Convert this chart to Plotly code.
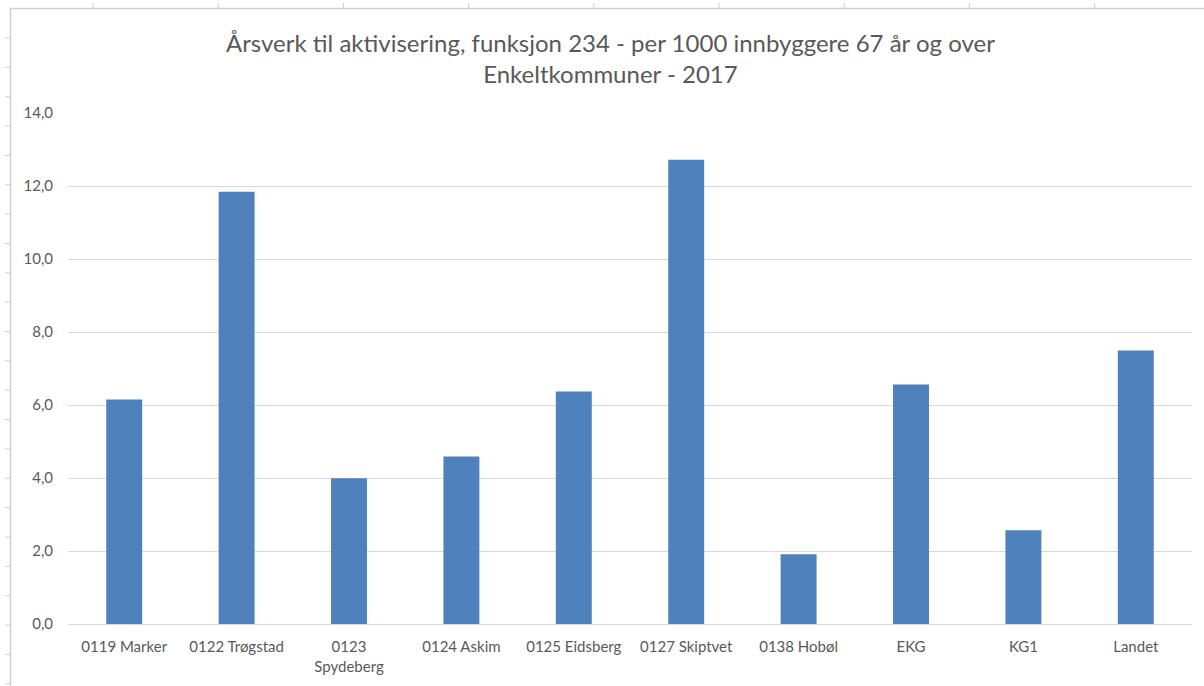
import plotly.graph_objects as go

# data
kommuner = ["0119 Marker", "0122 Trøgstad", "0123<br>Spydeberg", "0124 Askim",
            "0125 Eidsberg", "0127 Skiptvet", "0138 Hobøl", "EKG", "KG1", "Landet"]
aarsverk = [6.15, 11.84, 3.99, 4.59, 6.37, 12.72, 1.91, 6.56, 2.57, 7.49]
y_ticks = [0, 2, 4, 6, 8, 10, 12, 14]

W, H = 1204, 686
L, R, T, B = 68, 12, 113, 62
grey = "#595959"


# helpers to place frame decorations in pixel units
def px_x(x):
    return (x - L) / (W - L - R)


def px_y(y):
    return (H - B - y) / (H - T - B)


fig = go.Figure()
fig.add_trace(go.Bar(
    x=kommuner,
    y=aarsverk,
    marker=dict(color="#4F81BD", line=dict(width=0)),
    width=0.32,
    hovertemplate="%{x}: %{y:.1f}<extra></extra>",
))

shapes = []
# spreadsheet frame behind the chart
shapes.append(dict(type="line", xref="paper", yref="paper",
                   x0=px_x(10), x1=px_x(W), y0=px_y(8.5), y1=px_y(8.5),
                   line=dict(color="#D0D0D0", width=1.5)))
shapes.append(dict(type="line", xref="paper", yref="paper",
                   x0=px_x(10.5), x1=px_x(10.5), y0=px_y(8), y1=px_y(H),
                   line=dict(color="#D0D0D0", width=1.5)))
x = 93
while x < W:
    shapes.append(dict(type="line", xref="paper", yref="paper",
                       x0=px_x(x), x1=px_x(x), y0=px_y(3), y1=px_y(8),
                       line=dict(color="#D0D0D0", width=1)))
    x += 125.2
y = 38
while y < H:
    shapes.append(dict(type="line", xref="paper", yref="paper",
                       x0=px_x(5), x1=px_x(10), y0=px_y(y), y1=px_y(y),
                       line=dict(color="#D0D0D0", width=1)))
    y += 29.35

fig.update_layout(
    width=W, height=H,
    margin=dict(l=L, r=R, t=T, b=B),
    paper_bgcolor="white",
    plot_bgcolor="white",
    separators=", ",
    font=dict(family="Lato, Open Sans, sans-serif", color=grey, size=15),
    title=dict(
        text="Årsverk til aktivisering, funksjon 234 - per 1000 innbyggere 67 år og over<br>Enkeltkommuner - 2017",
        x=0.507, xanchor="center", xref="container",
        y=0.924, yanchor="middle",
        font=dict(size=24, color=grey),
    ),
    showlegend=False,
    shapes=shapes,
    xaxis=dict(
        showgrid=False,
        showline=True, linecolor="#D9D9D9", linewidth=1,
        ticks="", tickfont=dict(size=15, color=grey),
        ticklabelstandoff=9,
    ),
    yaxis=dict(
        range=[0, 14],
        tickvals=y_ticks,
        tickformat=".1f",
        showgrid=True, gridcolor="#D9D9D9", gridwidth=1,
        zeroline=False, showline=False,
        ticks="", tickfont=dict(size=15, color=grey),
        ticklabelstandoff=14,
    ),
)

# page body has a default 8px margin; drop it so the figure fills the window
fig.write_html("out.html", config={"displayModeBar": False},
               post_script="document.body.style.margin='0';")
